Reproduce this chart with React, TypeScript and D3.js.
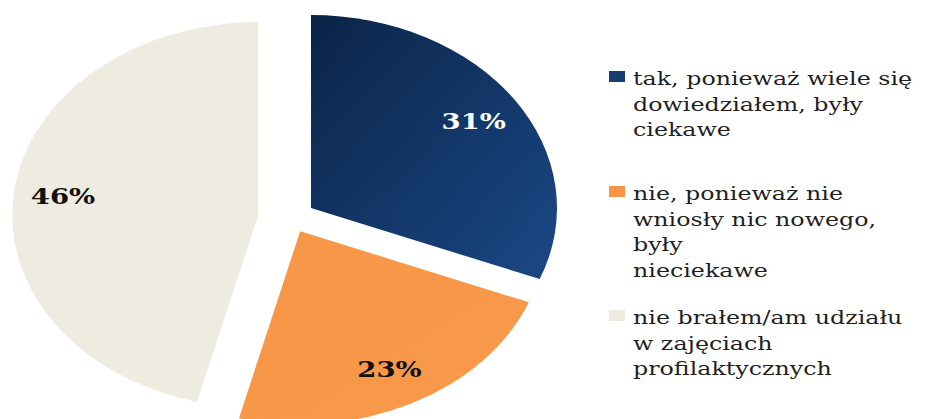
import React from "react";
import * as d3 from "d3";

const categories = [
  "tak, ponieważ wiele się dowiedziałem, były ciekawe",
  "nie, ponieważ nie wniosły nic nowego, były nieciekawe",
  "nie brałem/am udziału w zajęciach profilaktycznych",
];
const values = [31, 23, 46];
const valueLabels = ["31%", "23%", "46%"];
const legendLines = [
  ["tak, ponieważ wiele się", "dowiedziałem, były", "ciekawe"],
  ["nie, ponieważ nie", "wniosły nic nowego,", "były", "nieciekawe"],
  ["nie brałem/am udziału", "w zajęciach", "profilaktycznych"],
];
const colors = ["url(#gBlue)", "url(#gOrange)", "#eeece1"];
const swatch = ["#163d72", "#f79646", "#eeece1"];
const labelColors = ["#ffffff", "#111111", "#111111"];

const W = 925;
const H = 419;
const R = 193; // vertical radius
const SX = 246 / 193; // horizontal stretch
const CX = 287;
const CY = 217;
const EXPLODE_X = 29;
const EXPLODE_Y = 16;
const TSX = 1.25;

export default function App() {
  const pie = d3.pie<number>().sort(null).value((d) => d);
  const arcs = pie(values);
  const arc = d3.arc<d3.PieArcDatum<number>>().innerRadius(0).outerRadius(R);
  const labelArc = d3
    .arc<d3.PieArcDatum<number>>()
    .innerRadius(R * 0.8)
    .outerRadius(R * 0.8);

  const legendStarts = [85, 200, 324];
  const lineH = 25.5;

  return (
    <svg
      width={W}
      height={H}
      style={{ position: "absolute", left: 0, top: 0, background: "#ffffff" }}
    >
      <defs>
        <linearGradient id="gBlue" x1="0" y1="0" x2="1" y2="1">
          <stop offset="0%" stopColor="#0b2447" />
          <stop offset="100%" stopColor="#1a4886" />
        </linearGradient>
        <linearGradient id="gOrange" x1="0" y1="0" x2="1" y2="1">
          <stop offset="0%" stopColor="#f79646" />
          <stop offset="100%" stopColor="#f79a4a" />
        </linearGradient>
      </defs>
      {arcs.map((a, i) => {
        const mid = (a.startAngle + a.endAngle) / 2;
        const ox = CX + Math.sin(mid) * EXPLODE_X;
        const oy = CY - Math.cos(mid) * EXPLODE_Y;
        const [lx, ly] = labelArc.centroid(a);
        return (
          <g key={i}>
            <g transform={`translate(${ox},${oy}) scale(${SX},1)`}>
              <path d={arc(a) || ""} fill={colors[i]} />
            </g>
            <g transform={`translate(${ox + lx * SX},${oy + ly}) scale(${TSX},1)`}>
              <text
                textAnchor="middle"
                dy="0.36em"
                fontFamily="'DejaVu Serif', serif"
                fontWeight="bold"
                fontSize={22}
                fill={labelColors[i]}
              >
                {valueLabels[i]}
              </text>
            </g>
          </g>
        );
      })}
      {categories.map((c, i) => (
        <g key={c}>
          <rect
            x={609}
            y={legendStarts[i] - 14}
            width={16}
            height={11}
            fill={swatch[i]}
          />
          {legendLines[i].map((ln, j) => (
            <g
              key={j}
              transform={`translate(633,${legendStarts[i] + j * lineH}) scale(${TSX},1)`}
            >
              <text
                fontFamily="'DejaVu Serif', serif"
                fontSize={19}
                fill="#1f1f1f"
              >
                {ln}
              </text>
            </g>
          ))}
        </g>
      ))}
    </svg>
  );
}
